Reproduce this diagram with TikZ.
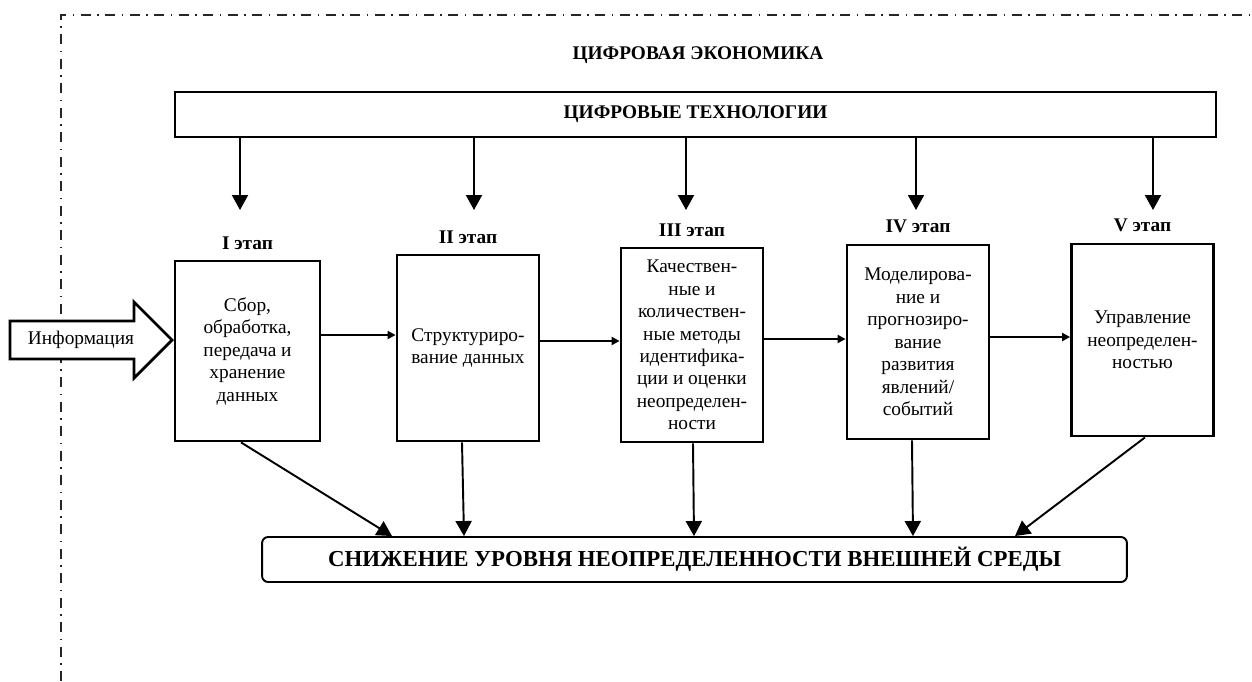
\documentclass[tikz,border=0pt]{standalone}
\usepackage{fontspec}
\setmainfont{Liberation Serif}
\usetikzlibrary{arrows.meta,positioning}

\tikzset{
  stagebox/.style={draw, line width=1.6pt, minimum width=2.84cm, align=center, inner sep=2pt, font=\fontsize{11}{12.8}\selectfont},
  stagelabel/.style={inner sep=0pt, font=\fontsize{11}{13}\selectfont\bfseries},
  down/.style={line width=1.1pt, -{Triangle[length=0.3cm,width=0.32cm]}},
  flow/.style={line width=1.2pt, -{Triangle[length=0.16cm,width=0.16cm]}},
}

\begin{document}
\begin{tikzpicture}[x=0.02cm,y=-0.02cm]
\useasboundingbox (0,0) rectangle (1252,681);
% frame
\draw[line width=1pt, draw=black!85, dash pattern=on 0.2cm off 0.13cm on 0.03cm off 0.13cm] (61,681) -- (61,15) -- (1252,15);

\node[font=\fontsize{11}{13}\selectfont\bfseries] (econ) at (698,55) {ЦИФРОВАЯ ЭКОНОМИКА};
\node[draw, line width=0.9pt, minimum width=20.82cm, minimum height=0.9cm, font=\fontsize{11}{13}\selectfont\bfseries] (tech) at (695.5,114.5) {ЦИФРОВЫЕ ТЕХНОЛОГИИ};

% stages
\node[stagebox, minimum width=2.9cm, minimum height=3.6cm] (b1) at (247.5,351) {Сбор,\\обработка,\\передача и\\хранение\\данных};
\node[stagebox, minimum height=3.72cm] (b2) at (468,348) {Структуриро-\\вание данных};
\node[stagebox, minimum height=3.88cm] (b3) at (692,345) {Качествен-\\ные и\\количествен-\\ные методы\\идентифика-\\ции и оценки\\неопределен-\\ности};
\node[stagebox, minimum height=3.88cm] (b4) at (918,342) {Моделирова-\\ние и\\прогнозиро-\\вание\\развития\\явлений/\\событий};
\node[stagebox, minimum height=3.84cm] (b5) at (1142.5,340) {Управление\\неопределен-\\ностью};

\node[stagelabel, above=0.2cm of b1] (l1) {I этап};
\node[stagelabel, above=0.2cm of b2] (l2) {II этап};
\node[stagelabel, above=0.2cm of b3] (l3) {III этап};
\node[stagelabel, above=0.2cm of b4] (l4) {IV этап};
\node[stagelabel, above=0.2cm of b5] (l5) {V этап};

\coordinate (a1) at (240,210);
\coordinate (a2) at (474,210);
\coordinate (a3) at (686,210);
\coordinate (a4) at (916,210);
\coordinate (a5) at (1153,210);
\draw[down] (tech.south -| a1) -- (a1);
\draw[down] (tech.south -| a2) -- (a2);
\draw[down] (tech.south -| a3) -- (a3);
\draw[down] (tech.south -| a4) -- (a4);
\draw[down] (tech.south -| a5) -- (a5);

% input
\draw[line width=1.6pt, line join=miter, fill=white] (10,321) -- (134,321) -- (134,302) -- (172,340) -- (134,378) -- (134,359) -- (10,359) -- cycle;
\node[font=\fontsize{11}{13}\selectfont] (info) at (81,340) {Информация};

\draw[flow] (b1.east |- 0,335) -- (b2.west |- 0,335);
\draw[flow] (b2.east |- 0,341) -- (b3.west |- 0,341);
\draw[flow] (b3.east |- 0,339) -- (b4.west |- 0,339);
\draw[flow] (b4.east |- 0,337) -- (b5.west |- 0,337);

% result
\node[draw, rounded corners=0.12cm, line width=1.1pt, minimum width=17.3cm, minimum height=0.9cm, font=\fontsize{13}{15}\selectfont\bfseries] (res) at (694.5,559.5) {СНИЖЕНИЕ УРОВНЯ НЕОПРЕДЕЛЕННОСТИ ВНЕШНЕЙ СРЕДЫ};

\draw[down] (b1.south -| 241,0) -- (res.north -| 392,0);
\draw[down] (b2.south -| 462,0) -- (res.north -| 464,0);
\draw[down] (b3.south -| 693,0) -- (res.north -| 694,0);
\draw[down] (b4.south -| 912,0) -- (res.north -| 913,0);
\draw[down] (b5.south -| 1145,0) -- (res.north -| 1015,0);
\end{tikzpicture}
\end{document}
